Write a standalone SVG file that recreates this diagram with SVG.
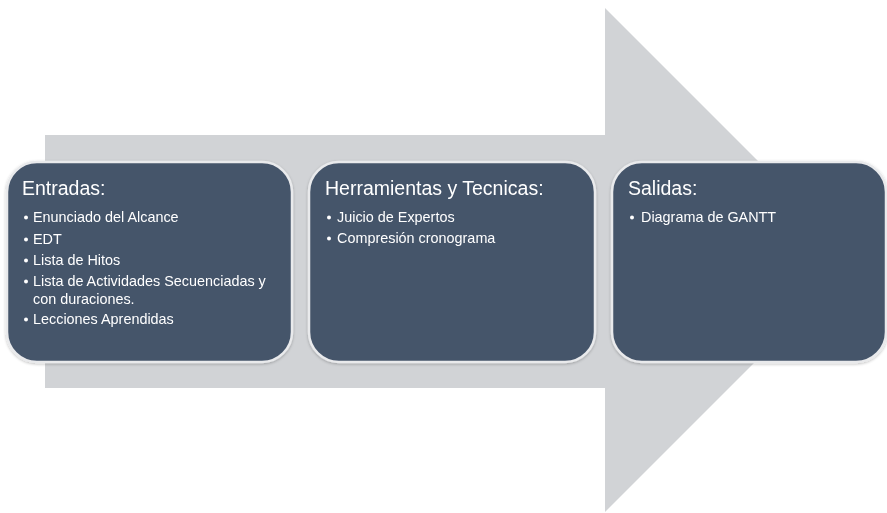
<svg xmlns="http://www.w3.org/2000/svg" width="887" height="513" viewBox="0 0 887 513">
  <style>
    .arrow { fill: #d1d3d6; }
    .box { fill: #44546a; stroke: #e9eaec; stroke-width: 2.5; }
    .title { font-family: "Liberation Sans", Arial, sans-serif; font-size: 19.5px; fill: #ffffff; }
    .item { font-family: "Liberation Sans", Arial, sans-serif; font-size: 14.4px; fill: #ffffff; }
    .dot { fill: #ffffff; }
  </style>
  <defs>
    <filter id="soft" x="-5%" y="-5%" width="110%" height="110%">
      <feGaussianBlur in="SourceAlpha" stdDeviation="1.5"/>
      <feOffset dx="0" dy="0.5"/>
      <feComponentTransfer><feFuncA type="linear" slope="0.25"/></feComponentTransfer>
      <feMerge><feMergeNode/><feMergeNode in="SourceGraphic"/></feMerge>
    </filter>
  </defs>

  <rect width="887" height="513" fill="#ffffff"/>

  <!-- background process arrow -->
  <polygon class="arrow" points="45,135 605,135 605,8 857,260 605,512 605,388 45,388"/>

  <!-- input stage -->
  <g id="entradas" filter="url(#soft)">
    <rect class="box" x="7" y="162" width="285" height="200" rx="30" ry="30"/>
    <text class="title" x="22" y="195">Entradas:</text>
    <circle class="dot" cx="26" cy="217.5" r="2"/>
    <text class="item" x="33" y="222">Enunciado del Alcance</text>
    <circle class="dot" cx="26" cy="239.5" r="2"/>
    <text class="item" x="33" y="244">EDT</text>
    <circle class="dot" cx="26" cy="260.5" r="2"/>
    <text class="item" x="33" y="265">Lista de Hitos</text>
    <circle class="dot" cx="26" cy="281.5" r="2"/>
    <text class="item" x="33" y="286">Lista de Actividades Secuenciadas y</text>
    <text class="item" x="33" y="304">con duraciones.</text>
    <circle class="dot" cx="26" cy="319.5" r="2"/>
    <text class="item" x="33" y="324">Lecciones Aprendidas</text>
  </g>

  <!-- tools and techniques stage -->
  <g id="herramientas" filter="url(#soft)">
    <rect class="box" x="309" y="162" width="286" height="200" rx="30" ry="30"/>
    <text class="title" x="325" y="195">Herramientas y Tecnicas:</text>
    <circle class="dot" cx="329" cy="217.5" r="2"/>
    <text class="item" x="337" y="222">Juicio de Expertos</text>
    <circle class="dot" cx="329" cy="238.5" r="2"/>
    <text class="item" x="337" y="243">Compresión cronograma</text>
  </g>

  <!-- output stage -->
  <g id="salidas" filter="url(#soft)">
    <rect class="box" x="612" y="162" width="274" height="200" rx="30" ry="30"/>
    <text class="title" x="628" y="195">Salidas:</text>
    <circle class="dot" cx="632" cy="217.5" r="2"/>
    <text class="item" x="641" y="222">Diagrama de GANTT</text>
  </g>

  <g id="connectors"/>
</svg>
